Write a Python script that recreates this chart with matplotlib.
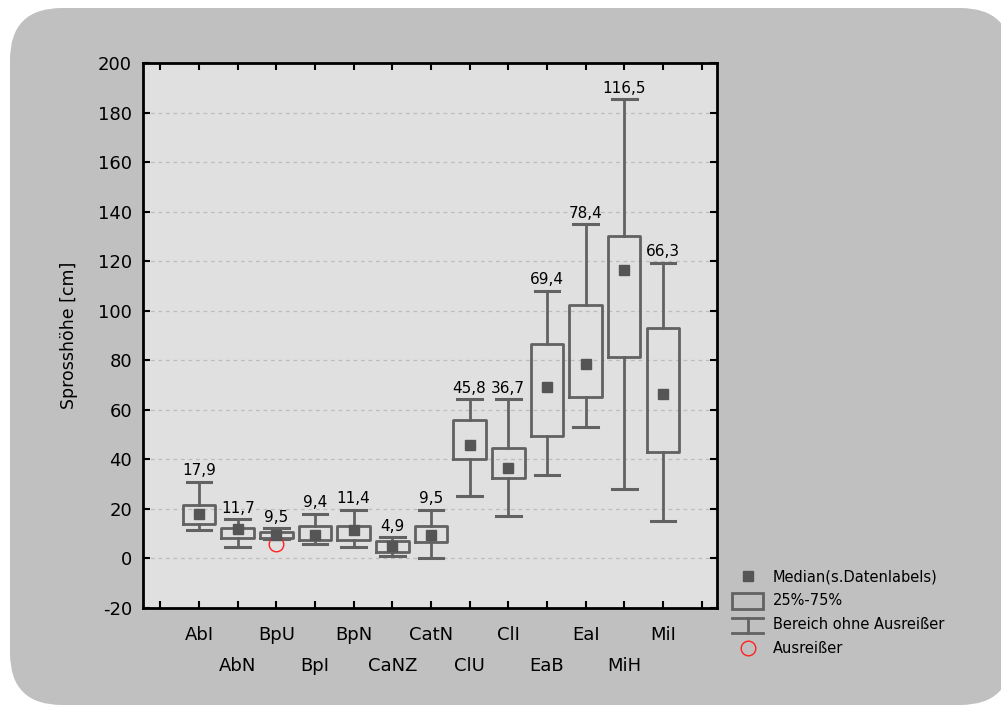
import matplotlib
matplotlib.use("Agg")
import matplotlib.pyplot as plt
from matplotlib.patches import FancyBboxPatch, Rectangle
from matplotlib.lines import Line2D
from matplotlib.legend_handler import HandlerBase
from matplotlib.transforms import IdentityTransform

plt.rcParams['font.family'] = ['DejaVu Sans']

# ---- data ----
categories = ["AbI", "AbN", "BpU", "BpI", "BpN", "CaNZ", "CatN",
              "ClU", "ClI", "EaB", "EaI", "MiH", "MiI"]
medians = [17.9, 11.7, 9.5, 9.4, 11.4, 4.9, 9.5, 45.8, 36.7, 69.4, 78.4, 116.5, 66.3]
q1 = [14.0, 8.4, 8.4, 7.6, 7.6, 2.8, 6.6, 40.1, 32.6, 49.4, 65.2, 81.2, 43.0]
q3 = [21.7, 12.3, 10.5, 13.2, 13.3, 6.9, 13.2, 56.0, 44.7, 86.7, 102.5, 130.2, 93.2]
whisker_low = [11.3, 4.8, 8.0, 5.7, 4.8, 1.1, 0.3, 25.3, 17.0, 33.5, 53.1, 28.2, 15.1]
whisker_high = [31.0, 15.9, 12.3, 18.0, 19.7, 8.6, 19.7, 64.2, 64.2, 108.0, 134.9, 185.3, 119.3]
outliers = [[], [], [5.7], [], [], [], [], [], [], [], [], [], []]
median_labels = ["17,9", "11,7", "9,5", "9,4", "11,4", "4,9", "9,5",
                 "45,8", "36,7", "69,4", "78,4", "116,5", "66,3"]
yticks = [-20, 0, 20, 40, 60, 80, 100, 120, 140, 160, 180, 200]
legend_labels = ["Median(s.Datenlabels)", "25%-75%", "Bereich ohne Ausreißer", "Ausreißer"]

LINE = "#626262"
MED = "#555555"

W, H = 1001, 706
fig = plt.figure(figsize=(W / 100, H / 100), dpi=100, facecolor="white")

# rounded grey background panel
bg = FancyBboxPatch((10, 1), 1002, 697,
                    boxstyle="round,pad=0,rounding_size=52",
                    transform=IdentityTransform(), facecolor="#c0c0c0",
                    edgecolor="none", zorder=-10)
fig.patches.append(bg)

ax = fig.add_axes([143 / W, 1 - 608 / H, (717 - 143) / W, (608 - 63) / H])
ax.set_facecolor("#e0e0e0")

positions = list(range(1, len(categories) + 1))
stats = []
for i in range(len(categories)):
    stats.append(dict(med=medians[i], q1=q1[i], q3=q3[i],
                      whislo=whisker_low[i], whishi=whisker_high[i],
                      fliers=outliers[i], label=categories[i]))

ax.bxp(stats, positions=positions, widths=0.84, showfliers=True,
       boxprops=dict(color=LINE, linewidth=2.0),
       whiskerprops=dict(color=LINE, linewidth=2.0),
       capprops=dict(color=LINE, linewidth=2.2),
       medianprops=dict(linewidth=0),
       flierprops=dict(marker='o', markerfacecolor='none', markeredgecolor='#ff2020',
                       markersize=10.5, markeredgewidth=1.0),
       capwidths=0.64, manage_ticks=False, zorder=3)
ax.plot(positions, medians, linestyle='none', marker='s', markersize=7,
        color=MED, zorder=4)

for p, wh, lab in zip(positions, whisker_high, median_labels):
    ax.annotate(lab, (p, wh), xytext=(0, 2.5), textcoords='offset points',
                ha='center', va='bottom', fontsize=11, color='black', zorder=5)

ax.set_ylim(-20, 200)
ax.set_xlim(-0.45, 14.4)
ax.set_yticks(yticks)
ax.set_yticklabels([str(t) for t in yticks], fontsize=13)
ax.yaxis.grid(True, linestyle=(0, (3, 3)), color="#bcbcbc", linewidth=0.9, zorder=0)
ax.set_axisbelow(True)

# x ticks: major at 0..14, odd-category labels on first row, even on second row
ax.xaxis.remove_overlapping_locs = False
major_pos = list(range(0, len(categories) + 2))
major_labels = []
for k in major_pos:
    if 1 <= k <= len(categories) and k % 2 == 1:
        major_labels.append(categories[k - 1])
    else:
        major_labels.append("")
ax.set_xticks(major_pos)
ax.set_xticklabels(major_labels, fontsize=13)
minor_pos = [k for k in positions if k % 2 == 0]
ax.set_xticks(minor_pos, minor=True)
ax.set_xticklabels([categories[k - 1] for k in minor_pos], minor=True, fontsize=13)

ax.tick_params(axis='both', which='major', direction='in', length=5, width=1.5,
               top=True, right=True, colors='black')
ax.tick_params(axis='x', which='major', pad=13)
ax.tick_params(axis='y', which='major', pad=8)
ax.tick_params(axis='x', which='minor', length=0, pad=35.5, bottom=True, top=False)

for s in ax.spines.values():
    s.set_linewidth(2.0)
    s.set_color('black')

ax.set_ylabel("Sprosshöhe [cm]", fontsize=12.5, labelpad=14)


# ---- legend with custom handlers ----
class BoxHandler(HandlerBase):
    def create_artists(self, legend, orig_handle, xdescent, ydescent, width, height,
                       fontsize, trans):
        r = Rectangle((-xdescent, -ydescent - 0.35 * height), width, 1.55 * height,
                      facecolor='none', edgecolor=LINE, linewidth=2.0, transform=trans)
        return [r]


class WhiskerHandler(HandlerBase):
    def create_artists(self, legend, orig_handle, xdescent, ydescent, width, height,
                       fontsize, trans):
        x0 = -xdescent
        y0 = -ydescent
        top = y0 + 1.05 * height
        bot = y0 - 0.35 * height
        xm = x0 + width / 2
        l1 = Line2D([x0, x0 + width], [top, top], color=LINE, lw=2.0, transform=trans)
        l2 = Line2D([x0, x0 + width], [bot, bot], color=LINE, lw=2.0, transform=trans)
        l3 = Line2D([xm, xm], [bot, top], color=LINE, lw=2.0, transform=trans)
        return [l1, l2, l3]


class BoxKey:
    pass


class WhiskerKey:
    pass


h_med = Line2D([], [], linestyle='none', marker='s', markersize=7, color=MED)
h_out = Line2D([], [], linestyle='none', marker='o', markerfacecolor='none',
               markeredgecolor='#ff2020', markersize=10.5, markeredgewidth=1.0)
leg = fig.legend([h_med, BoxKey(), WhiskerKey(), h_out], legend_labels,
                 handler_map={BoxKey: BoxHandler(), WhiskerKey: WhiskerHandler()},
                 loc='upper left', bbox_to_anchor=(732 / W, 1 - 569 / H),
                 bbox_transform=fig.transFigure, frameon=False, fontsize=10.5,
                 handlelength=2.15, handletextpad=0.65, labelspacing=0.62,
                 borderpad=0, borderaxespad=0)

fig.savefig("out.png", dpi=100, facecolor="white")
